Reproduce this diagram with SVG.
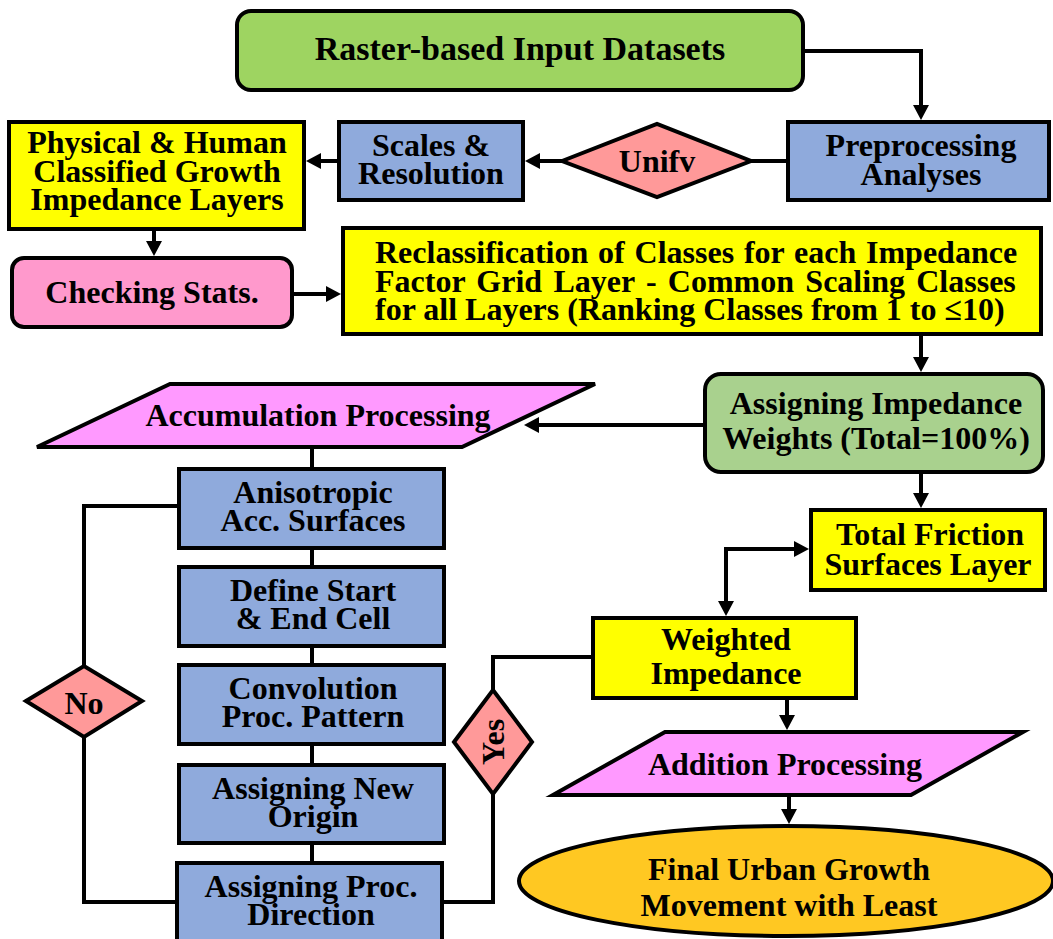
<svg xmlns="http://www.w3.org/2000/svg" width="1053" height="939" viewBox="0 0 1053 939">
  <defs>
    <marker id="arrow" markerUnits="userSpaceOnUse" markerWidth="16" markerHeight="16" viewBox="0 0 15 16" refX="11" refY="8" orient="auto-start-reverse">
      <path d="M0,0 L15,8 L0,16 z" fill="#000"/>
    </marker>
    <style>
      .box { stroke: #000; stroke-width: 4; }
      .green { fill: #9ed461; }
      .sage { fill: #a9d18e; }
      .blue { fill: #8faadc; }
      .yellow { fill: #ffff00; }
      .pink { fill: #ff99cc; }
      .salmon { fill: #ff9999; }
      .magenta { fill: #ff99ff; }
      .gold { fill: #ffc822; }
      text { font-family: "Liberation Serif", "Times New Roman", serif; font-weight: bold; font-size: 32px; fill: #000; text-anchor: middle; }
      .left { text-anchor: start; }
      .conn { fill: none; stroke: #000; stroke-width: 4; }
    </style>
  </defs>
  <rect width="1053" height="939" fill="#fff"/>

  <!-- connectors -->
  <g id="connectors">
    <path class="conn" d="M803,51 H921 V116" marker-end="url(#arrow)"/>
    <path class="conn" d="M788,161 H751"/>
    <path class="conn" d="M562,161 H529" marker-end="url(#arrow)"/>
    <path class="conn" d="M339,161 H310" marker-end="url(#arrow)"/>
    <path class="conn" d="M154,229 V252" marker-end="url(#arrow)"/>
    <path class="conn" d="M292,294 H337" marker-end="url(#arrow)"/>
    <path class="conn" d="M921,334 V368" marker-end="url(#arrow)"/>
    <path class="conn" d="M705,425 H528" marker-end="url(#arrow)"/>
    <path class="conn" d="M921,472 V504" marker-end="url(#arrow)"/>
    <path class="conn" d="M805,549 H726 V612" marker-start="url(#arrow)" marker-end="url(#arrow)"/>
    <path class="conn" d="M787,698 V726" marker-end="url(#arrow)"/>
    <path class="conn" d="M789,795 V820" marker-end="url(#arrow)"/>
    <path class="conn" d="M312,447 V469 M312,548 V567 M312,646 V665 M312,744 V765 M312,843 V863"/>
    <path class="conn" d="M179,506 H84 V666 M84,737 V902 H177"/>
    <path class="conn" d="M442,902 H493 V794 M493,690 V657 H593"/>
  </g>

  <g id="raster-input">
    <rect class="box green" x="237" y="11" width="566" height="79" rx="14"/>
    <text x="520" y="60" style="font-size:34px">Raster-based Input Datasets</text>
  </g>

  <g id="preprocessing">
    <rect class="box blue" x="788" y="122" width="261" height="78"/>
    <text x="921" y="156">Preprocessing</text>
    <text x="921" y="185">Analyses</text>
  </g>

  <g id="unify">
    <polygon class="box salmon" points="562,161 657,124 751,161 657,197"/>
    <text x="657" y="172">Unifv</text>
  </g>

  <g id="scales">
    <rect class="box blue" x="339" y="122" width="184" height="78"/>
    <text x="431" y="156">Scales &amp;</text>
    <text x="431" y="184">Resolution</text>
  </g>

  <g id="impedance-layers">
    <rect class="box yellow" x="9" y="122" width="295" height="107"/>
    <text x="157" y="153">Physical &amp; Human</text>
    <text x="157" y="182">Classified Growth</text>
    <text x="157" y="210">Impedance Layers</text>
  </g>

  <g id="checking-stats">
    <rect class="box pink" x="12" y="258" width="280" height="69" rx="12"/>
    <text x="152" y="303">Checking Stats.</text>
  </g>

  <g id="reclassification">
    <rect class="box yellow" x="343" y="228" width="698" height="106"/>
    <text class="left" x="375" y="263" style="word-spacing:1.8px">Reclassification of Classes for each Impedance</text>
    <text class="left" x="375" y="292" style="word-spacing:3.3px">Factor Grid Layer - Common Scaling Classes</text>
    <text class="left" x="375" y="320">for all Layers (Ranking Classes from 1 to ≤10)</text>
  </g>

  <g id="impedance-weights">
    <rect class="box sage" x="705" y="374" width="338" height="98" rx="16"/>
    <text x="876" y="414">Assigning Impedance</text>
    <text x="876" y="449">Weights (Total=100%)</text>
  </g>

  <g id="accumulation">
    <polygon class="box magenta" points="170,384 595,384 462,447 37,447"/>
    <text x="318" y="426">Accumulation Processing</text>
  </g>

  <g id="total-friction">
    <rect class="box yellow" x="811" y="510" width="234" height="80"/>
    <text x="930" y="545">Total Friction</text>
    <text x="928" y="575">Surfaces Layer</text>
  </g>

  <g id="weighted-impedance">
    <rect class="box yellow" x="593" y="618" width="263" height="80"/>
    <text x="726" y="650">Weighted</text>
    <text x="726" y="684">Impedance</text>
  </g>

  <g id="addition">
    <polygon class="box magenta" points="665,732 1023,732 911,795 553,795"/>
    <text x="785" y="775">Addition Processing</text>
  </g>

  <g id="final-growth">
    <ellipse class="box gold" cx="786" cy="881" rx="267" ry="55"/>
    <text x="789" y="880">Final Urban Growth</text>
    <text x="789" y="916">Movement with Least</text>
  </g>

  <g id="anisotropic">
    <rect class="box blue" x="179" y="469" width="265" height="79"/>
    <text x="313" y="503">Anisotropic</text>
    <text x="313" y="531">Acc. Surfaces</text>
  </g>

  <g id="start-end">
    <rect class="box blue" x="179" y="567" width="265" height="79"/>
    <text x="313" y="601">Define Start</text>
    <text x="313" y="629">&amp; End Cell</text>
  </g>

  <g id="convolution">
    <rect class="box blue" x="179" y="665" width="265" height="79"/>
    <text x="313" y="699">Convolution</text>
    <text x="313" y="727">Proc. Pattern</text>
  </g>

  <g id="new-origin">
    <rect class="box blue" x="179" y="765" width="265" height="78"/>
    <text x="313" y="799">Assigning New</text>
    <text x="313" y="827">Origin</text>
  </g>

  <g id="proc-direction">
    <rect class="box blue" x="177" y="863" width="265" height="90"/>
    <text x="311" y="897">Assigning Proc.</text>
    <text x="311" y="925">Direction</text>
  </g>

  <g id="no">
    <polygon class="box salmon" points="26,701 84,666 142,701 84,737"/>
    <text x="84" y="714">No</text>
  </g>

  <g id="yes">
    <polygon class="box salmon" points="454,742 493,690 532,742 493,794"/>
    <text transform="translate(504,742) rotate(-90)">Yes</text>
  </g>
</svg>
